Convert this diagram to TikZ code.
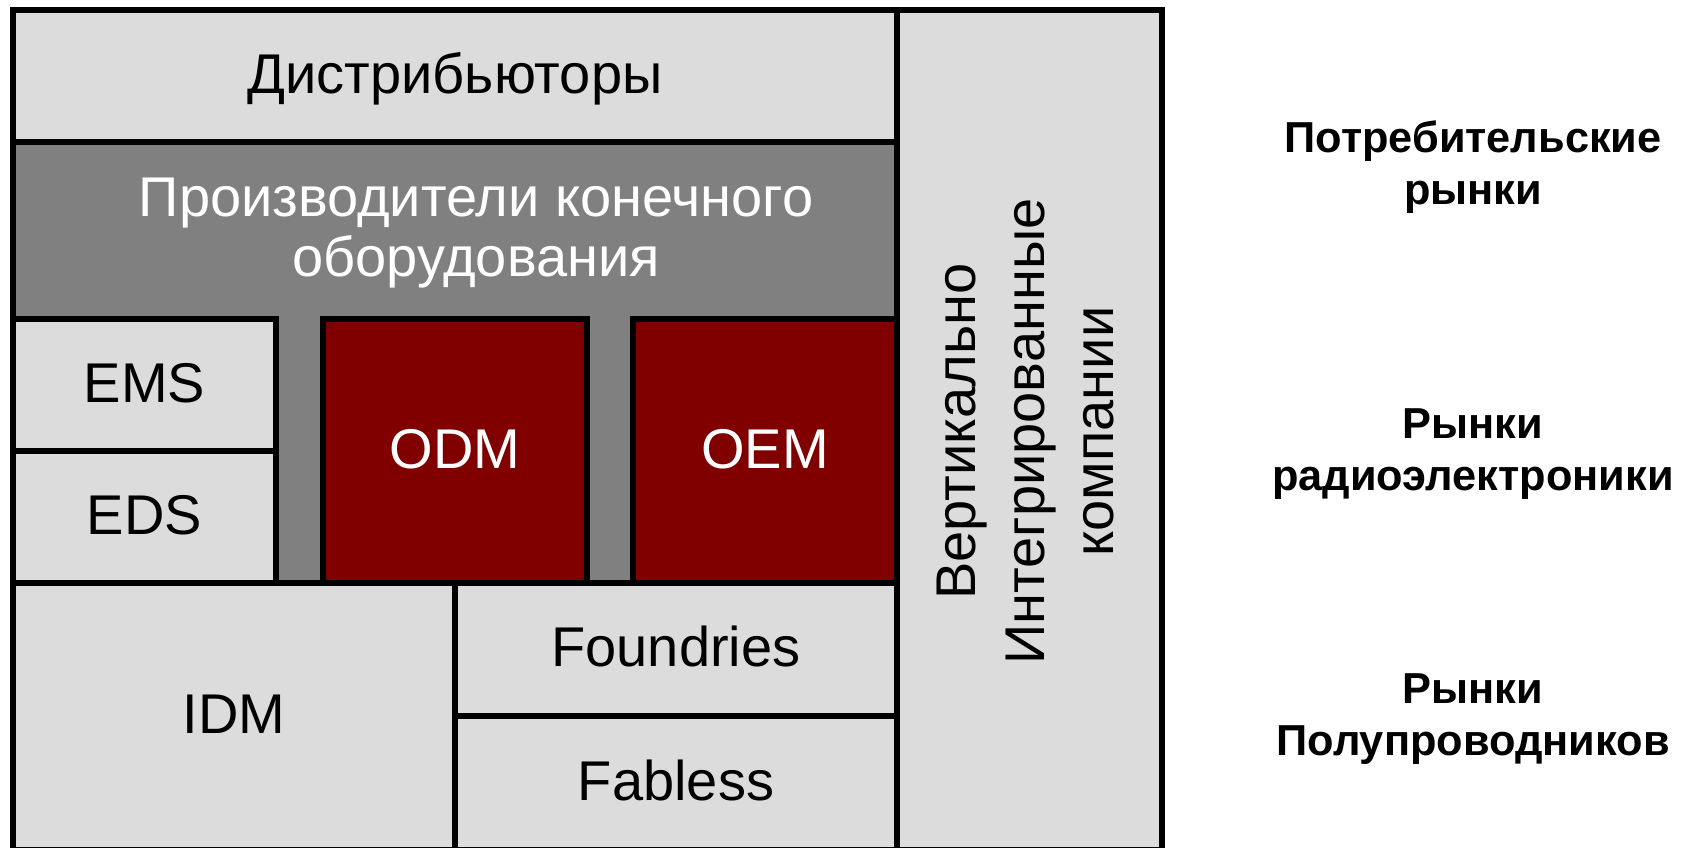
\documentclass[tikz,border=0pt]{standalone}
\usepackage{fontspec}
\setmainfont{Liberation Sans}
\definecolor{lgray}{HTML}{DCDCDC}
\definecolor{mgray}{HTML}{808080}
\definecolor{dred}{HTML}{800000}
\begin{document}
\begin{tikzpicture}[x=0.75pt,y=-0.75pt,
  brd/.style={draw=black, line width=4.5pt, inner sep=0pt, outer sep=0pt, rectangle},
  light/.style={brd, fill=lgray},
  mid/.style={brd, fill=mgray},
  redbox/.style={brd, fill=dred, text=white},
  big/.style={font=\fontsize{42}{44.5}\selectfont, text height=30.2pt, text depth=4.6pt},
  side/.style={font=\fontsize{32.5}{39}\selectfont\bfseries, align=center}
]
\useasboundingbox (0,0) rectangle (1691,847);
\begin{scope}
\clip (0,0) rectangle (1691,847);
\node[light, minimum width=198.75pt, minimum height=630pt] (vic) at (1029.5,430) {};
\node[light, big, minimum width=663pt, minimum height=99pt] (dist) at (455,76) {Дистрибьюторы};
\node[mid, minimum width=663pt, minimum height=330.75pt] (prod) at (455,362.5) {};
\node[light, big, minimum width=197.25pt, minimum height=99pt] (ems) at (144.5,385) {EMS};
\node[light, big, minimum width=197.25pt, minimum height=99pt] (eds) at (144.5,517) {EDS};
\node[redbox, big, minimum width=198pt, minimum height=198pt] (odm) at (455,451) {ODM};
\node[redbox, big, minimum width=198pt, minimum height=198pt] (oem) at (765,451) {OEM};
\node[light, big, minimum width=331.5pt, minimum height=200.25pt] (idm) at (234,716.5) {IDM};
\node[light, big, minimum width=331.5pt, minimum height=99.75pt] (found) at (676,649.5) {Foundries};
\node[light, big, minimum width=331.5pt, minimum height=100.5pt] (fab) at (676,783) {Fabless};
\end{scope}
\node[text=white, align=center, font=\fontsize{42}{44.5}\selectfont] (prodtext) at (476,233) {Производители конечного\\оборудования};
\node[rotate=90, align=center, font=\fontsize{42}{51.5}\selectfont] (victext) at (1025.5,431.5) {Вертикально\\Интегрированные\\компании};
\node[side] (cons) at (1473,167) {Потребительские\\рынки};
\node[side] (radio) at (1473,454) {Рынки\\радиоэлектроники};
\node[side] (semi) at (1473,719) {Рынки\\Полупроводников};
\end{tikzpicture}
\end{document}
